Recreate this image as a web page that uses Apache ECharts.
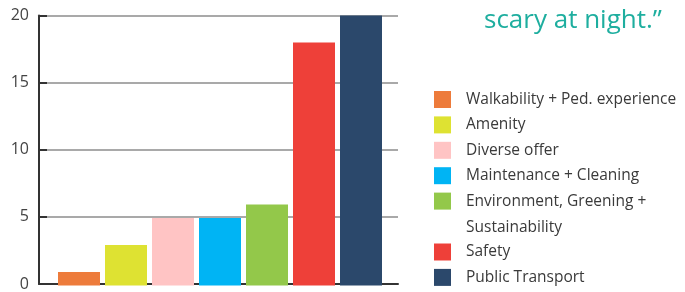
<!DOCTYPE html>
<html>
<head>
<meta charset="utf-8">
<script src="https://cdn.jsdelivr.net/npm/echarts@6/dist/echarts.min.js"></script>
<style>
	html, body { margin: 0; padding: 0; background: #fff; }
	#chart { width: 685px; height: 292px; }
</style>
</head>
<body>
<div id="chart"></div>
<script>
var categories = ['Walkability + Ped. experience', 'Amenity', 'Diverse offer', 'Maintenance + Cleaning',
	'Environment, Greening + Sustainability', 'Safety', 'Public Transport'];
var values = [1, 3, 5, 5, 6, 18, 20];
var yTicks = [0, 5, 10, 15, 20];
var quote = 'scary at night.\u201d';

var colors = ['#ED7B3B', '#DEE232', '#FFC4C4', '#00B4F4', '#93C84A', '#EE4039', '#2B486B'];
var font = '"Open Sans", sans-serif';

// one series per category so the legend can show every colour
var series = categories.map(function(name, i) {
	var data = categories.map(function(c, j) { return j === i ? values[i] : null; });
	return {
		name: name,
		type: 'bar',
		xAxisIndex: 1,
		yAxisIndex: 1,
		stack: 'all',
		barWidth: 42,
		itemStyle: { color: colors[i] },
		data: data
	};
});

var legendText = { color: '#3a3a3a', fontFamily: font, fontSize: 15.5, lineHeight: 17, padding: [0, 0, 0, 10] };

var chart = echarts.init(document.getElementById('chart'));
chart.setOption({
	backgroundColor: '#ffffff',
	animation: false,
	title: {
		text: quote,
		left: 484,
		top: 8,
		padding: 0,
		textStyle: { color: '#1EAE9F', fontFamily: font, fontWeight: 'normal', fontSize: 26 }
	},
	legend: [{
		orient: 'vertical',
		left: 434,
		top: 91,
		padding: 0,
		itemWidth: 17,
		itemHeight: 17,
		itemGap: 8.4,
		icon: 'rect',
		selectedMode: false,
		data: categories.slice(0, 5),
		formatter: function(n) { return n.replace(' Sustainability', ''); },
		textStyle: legendText
	}, {
		orient: 'vertical',
		left: 434,
		top: 243.5,
		padding: 0,
		itemWidth: 17,
		itemHeight: 17,
		itemGap: 8.4,
		icon: 'rect',
		selectedMode: false,
		data: categories.slice(5),
		textStyle: legendText
	}],
	graphic: [{
		type: 'text',
		left: 466,
		top: 220,
		style: { text: 'Sustainability', fill: '#3a3a3a', font: '15.5px ' + font }
	}],
	grid: [
		{ left: 39, top: 15.5, width: 359, height: 270 },
		{ left: 55.5, top: 15.5, width: 329, height: 270 }
	],
	xAxis: [{
		gridIndex: 0,
		type: 'value',
		min: 0,
		max: 1,
		axisLine: { show: true, lineStyle: { color: '#333', width: 2 } },
		axisTick: { show: false },
		axisLabel: { show: false },
		splitLine: { show: false }
	}, {
		gridIndex: 1,
		type: 'category',
		data: categories,
		show: false
	}],
	yAxis: [{
		gridIndex: 0,
		type: 'value',
		min: yTicks[0],
		max: yTicks[yTicks.length - 1],
		interval: 5,
		axisLine: { show: true, lineStyle: { color: '#333', width: 2 } },
		axisTick: { show: true, inside: true, length: 8, lineStyle: { color: '#333', width: 2 } },
		axisLabel: { color: '#444', fontFamily: font, fontSize: 16, margin: 10 },
		splitLine: { show: true, lineStyle: { color: '#8c8c8c', width: 1.5 } }
	}, {
		gridIndex: 1,
		type: 'value',
		min: yTicks[0],
		max: yTicks[yTicks.length - 1],
		show: false,
		splitLine: { show: false }
	}],
	series: series
});
</script>
</body>
</html>
